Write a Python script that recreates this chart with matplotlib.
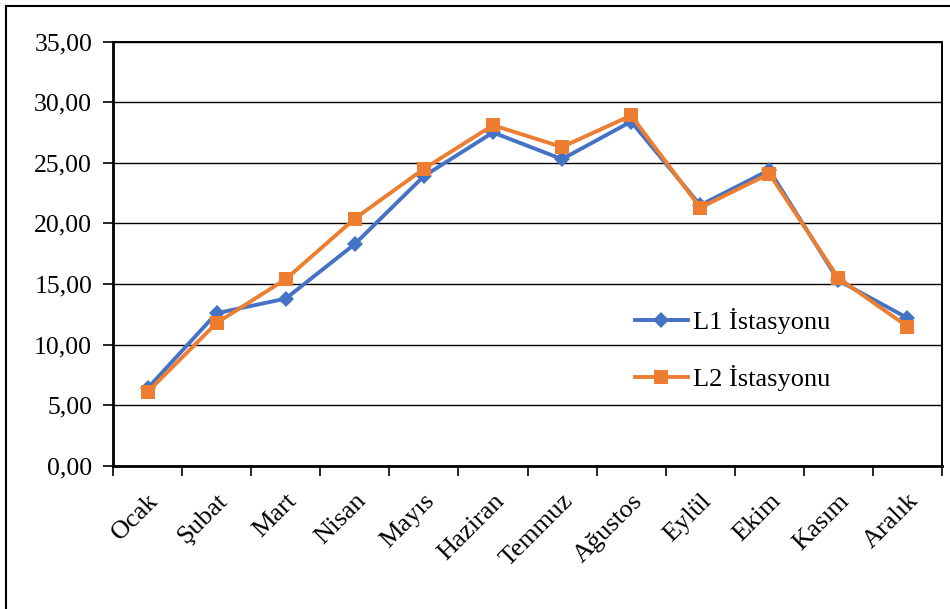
import matplotlib
matplotlib.use("Agg")
import matplotlib.pyplot as plt
from matplotlib.lines import Line2D

months = ["Ocak", "Şubat", "Mart", "Nisan", "Mayıs", "Haziran",
          "Temmuz", "Ağustos", "Eylül", "Ekim", "Kasım", "Aralık"]
l1_values = [6.4, 12.6, 13.8, 18.3, 23.9, 27.5, 25.3, 28.4, 21.5, 24.4, 15.3, 12.2]
l2_values = [6.1, 11.8, 15.4, 20.4, 24.5, 28.1, 26.3, 28.9, 21.3, 24.1, 15.5, 11.5]
series_names = ["L1 İstasyonu", "L2 İstasyonu"]
y_ticks = [0, 5, 10, 15, 20, 25, 30, 35]

BLUE = "#4472C4"
ORANGE = "#ED7D31"
W, H = 950, 609

plt.rcParams["font.family"] = ["Liberation Serif", "DejaVu Serif"]

fig = plt.figure(figsize=(W / 100, H / 100), dpi=100)
ax = fig.add_axes([113 / W, 1 - 466 / H, (942 - 113) / W, (466 - 41.5) / H])

x = list(range(len(months)))
ax.plot(x, l1_values, color=BLUE, lw=2.8, marker="D", markersize=8.5,
        markeredgewidth=0, label=series_names[0], zorder=3)
ax.plot(x, l2_values, color=ORANGE, lw=2.8, marker="s", markersize=10.5,
        markeredgewidth=0, label=series_names[1], zorder=4)

ax.set_xlim(-0.5, len(months) - 0.5)
ax.set_ylim(0, 35)
ax.set_yticks(y_ticks)
ax.set_yticklabels([f"{v:.2f}".replace(".", ",") for v in y_ticks], fontsize=18.5)
ax.yaxis.grid(True, color="black", lw=1.0)
ax.set_axisbelow(True)

# category ticks sit between months, labels at month centres
ax.set_xticks([i - 0.5 for i in range(len(months) + 1)])
ax.set_xticklabels([])
ax.set_xticks(x, minor=True)
ax.set_xticklabels(months, minor=True, fontsize=19, rotation=45,
                   ha="right", va="top", rotation_mode="anchor")
ax.tick_params(axis="x", which="minor", length=0, pad=17)
ax.tick_params(axis="x", which="major", length=7, width=1.2, direction="out")
ax.tick_params(axis="y", length=7, width=1.2, direction="out", pad=8)

for side in ["left", "bottom"]:
    ax.spines[side].set_linewidth(2.0)
for side in ["top", "right"]:
    ax.spines[side].set_linewidth(1.4)

ax.legend(loc="upper left", bbox_to_anchor=(0.617, 0.396), frameon=False,
          fontsize=19, handlelength=2.0, handletextpad=0.2, labelspacing=1.15,
          borderaxespad=0)

# outer frame of the chart area
fig.add_artist(Line2D([6 / W, 6 / W], [0, 1 - 6 / H], color="black", lw=1.5,
                      transform=fig.transFigure))
fig.add_artist(Line2D([6 / W, 1], [1 - 6 / H, 1 - 6 / H], color="black", lw=1.5,
                      transform=fig.transFigure))

fig.savefig("out.png", dpi=100, facecolor="white")
